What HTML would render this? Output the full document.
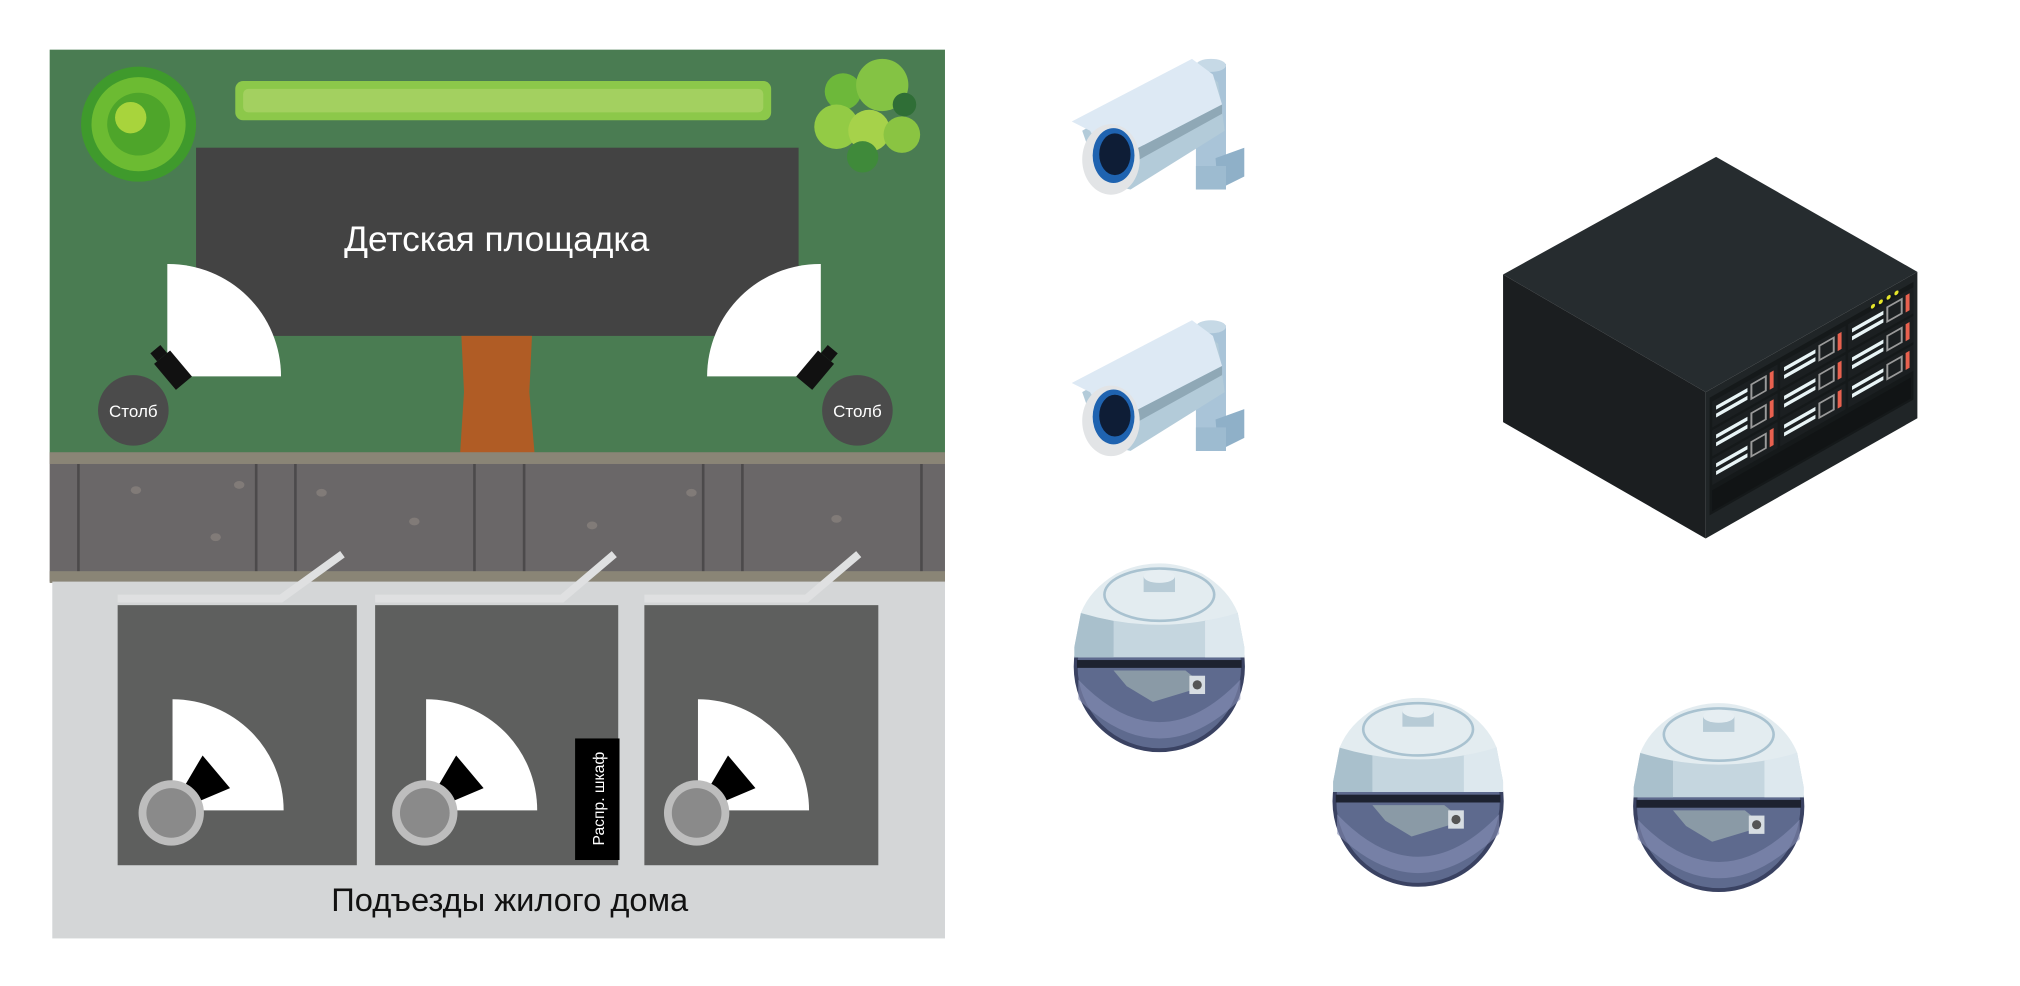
<!DOCTYPE html>
<html><head><meta charset="utf-8"><style>
html,body{margin:0;padding:0;background:#fff;}
svg{display:block;}
text{font-family:"Liberation Sans","DejaVu Sans",sans-serif;}
</style></head><body>
<svg width="2020" height="986" viewBox="0 0 1545.5 754.4" xmlns="http://www.w3.org/2000/svg">
<defs>
<g id="cam">
  <rect x="95" y="4" width="23" height="96" fill="#a9c4d8"/>
  <ellipse cx="106.5" cy="5" rx="11.5" ry="5" fill="#c6d9e6"/>
  <polygon points="110,76 132,68 132,90 112,100" fill="#8fb0c8"/>
  <rect x="95" y="82" width="23" height="18" fill="#9dbbd0"/>
  <polygon points="8,55 95,5 112,18 117,55 45,100 22,95" fill="#b3cbd9"/>
  <polygon points="0,48 92,0 108,12 115,35 28,80 14,55" fill="#dde9f4"/>
  <polygon points="28,80 115,35 115,42 32,88" fill="#8fa8b6"/>
  <ellipse cx="30" cy="77" rx="22" ry="27" fill="#e2e4e6"/>
  <ellipse cx="32" cy="74" rx="16" ry="21" fill="#1f63b0"/>
  <ellipse cx="33" cy="73" rx="12" ry="16" fill="#0e1d36"/>
</g>
<g id="dome">
  <ellipse cx="65" cy="85" rx="64" ry="64" fill="#5e6a8e" stroke="#3a4262" stroke-width="3"/>
  <path d="M3,95 Q65,160 127,95 L127,110 Q65,170 3,110Z" fill="#8790b5" opacity="0.6"/>
  <polygon points="30,88 85,88 100,100 60,112 40,100" fill="#8a9aa6"/>
  <rect x="88" y="92" width="12" height="14" fill="#d7dde2"/>
  <circle cx="94" cy="99" r="3.5" fill="#555"/>
  <rect x="2" y="80" width="126" height="6" fill="#1d2230"/>
  <path d="M0,78 L0,70 L5,44 Q12,28 32,16 Q65,0 98,16 Q118,28 125,44 L130,70 L130,78Z" fill="#c5d6df"/>
  <path d="M0,78 L0,70 L5,44 L30,50 L30,78Z" fill="#a9c0cc"/>
  <path d="M100,50 L125,44 L130,70 L130,78 L100,78Z" fill="#dde8ee"/>
  <path d="M5,44 Q12,26 32,14 Q65,-2 98,14 Q118,26 125,44 Q65,62 5,44Z" fill="#e3ecf0"/>
  <ellipse cx="65" cy="30" rx="42" ry="20" fill="none" stroke="#a9c2d0" stroke-width="2"/>
  <rect x="53" y="16" width="24" height="12" fill="#b7cbd6"/>
  <ellipse cx="65" cy="16" rx="12" ry="5" fill="#e6eef2"/>
</g>
<g id="bay">
  <rect x="0" y="0" width="50" height="20" fill="#1b1f21"/>
  <rect x="3" y="5" width="24" height="3" fill="#e8f4f6"/>
  <rect x="3" y="11" width="24" height="3" fill="#e8f4f6"/>
  <rect x="30" y="4" width="11" height="11" fill="none" stroke="#9a9a9a" stroke-width="1.5"/>
  <rect x="44" y="3" width="3" height="13" fill="#e8614f"/>
</g>
</defs>

<rect x="38" y="38" width="685" height="309" fill="#4a7c52"/>
<circle cx="106" cy="95" r="44" fill="#3f9a2c"/>
<circle cx="106" cy="95" r="36" fill="#6cbb32"/>
<circle cx="106" cy="95" r="24" fill="#4ea52a"/>
<circle cx="100" cy="90" r="12" fill="#a8d43c"/>
<rect x="180" y="62" width="410" height="30" rx="6" fill="#8cc84a"/>
<rect x="186" y="68" width="398" height="18" rx="4" fill="#a3d060"/>
<circle cx="645" cy="70" r="14" fill="#6db83a"/>
<circle cx="675" cy="65" r="20" fill="#84c344"/>
<circle cx="640" cy="97" r="17" fill="#93cb45"/>
<circle cx="665" cy="100" r="16" fill="#a6d24a"/>
<circle cx="690" cy="103" r="14" fill="#8ac442"/>
<circle cx="660" cy="120" r="12" fill="#3f8a3a"/>
<circle cx="692" cy="80" r="9" fill="#2f6e36"/>
<rect x="150" y="113" width="461" height="144" fill="#434343"/>
<text x="380" y="192" font-size="27" fill="#fff" text-anchor="middle">Детская площадка</text>
<path d="M353,257 L407,257 L405,300 L409,347 L352,347 L355,300Z" fill="#b05c25"/>

<path d="M128,288 L128,202 A86,86 0 0 1 215,288Z" fill="#fff"/>
<g transform="translate(133,284) rotate(-40)"><rect x="-8" y="-14" width="16" height="26" fill="#111"/><rect x="-5" y="-22" width="10" height="8" fill="#111"/></g>
<circle cx="102" cy="314" r="27" fill="#4b4b4b"/>
<text x="102" y="319" font-size="13" fill="#fff" text-anchor="middle">Столб</text>

<path d="M628,288 L628,202 A86,86 0 0 0 541,288Z" fill="#fff"/>
<g transform="translate(623,284) rotate(40)"><rect x="-8" y="-14" width="16" height="26" fill="#111"/><rect x="-5" y="-22" width="10" height="8" fill="#111"/></g>
<circle cx="656" cy="314" r="27" fill="#4b4b4b"/>
<text x="656" y="319" font-size="13" fill="#fff" text-anchor="middle">Столб</text>

<rect x="38" y="347" width="685" height="98" fill="#6a6768"/>
<rect x="38" y="346" width="685" height="9" fill="#8a8576"/>
<rect x="38" y="437" width="685" height="9" fill="#8a8576"/>
<g stroke="#4c4a4b" stroke-width="2">
<line x1="60" y1="355" x2="60" y2="437"/><line x1="196" y1="355" x2="196" y2="437"/><line x1="226" y1="355" x2="226" y2="437"/><line x1="363" y1="355" x2="363" y2="437"/><line x1="401" y1="355" x2="401" y2="437"/><line x1="538" y1="355" x2="538" y2="437"/><line x1="568" y1="355" x2="568" y2="437"/><line x1="705" y1="355" x2="705" y2="437"/>
</g>
<g fill="#817b78"><ellipse cx="104" cy="375" rx="4" ry="3"/><ellipse cx="183" cy="371" rx="4" ry="3"/><ellipse cx="246" cy="377" rx="4" ry="3"/><ellipse cx="317" cy="399" rx="4" ry="3"/><ellipse cx="453" cy="402" rx="4" ry="3"/><ellipse cx="529" cy="377" rx="4" ry="3"/><ellipse cx="640" cy="397" rx="4" ry="3"/><ellipse cx="165" cy="411" rx="4" ry="3"/></g>

<rect x="40" y="445" width="683" height="273" fill="#d4d6d7"/>
<rect x="90" y="463" width="183" height="199" fill="#5e5f5e"/>
<rect x="287" y="463" width="186" height="199" fill="#5e5f5e"/>
<rect x="493" y="463" width="179" height="199" fill="#5e5f5e"/>
<g stroke="#dfe0e1" stroke-width="6" fill="none">
<polyline points="90,458 215,458 262,424"/>
<polyline points="287,458 430,458 470,424"/>
<polyline points="493,458 617,458 657,424"/>
</g>
<g id="ent1">
<path d="M132,620 L132,535 A85,85 0 0 1 217,620Z" fill="#fff"/>
<polygon points="155,578 142,600 150,614 176,603" fill="#000"/>
<circle cx="131" cy="622" r="25" fill="#bdbdbd"/>
<circle cx="131" cy="622" r="19" fill="#8a8a8a"/>
</g>
<use href="#ent1" transform="translate(194,0)"/>
<use href="#ent1" transform="translate(402,0)"/>
<rect x="440" y="565" width="34" height="93" fill="#000"/>
<text transform="translate(462,611) rotate(-90)" font-size="12" fill="#fff" text-anchor="middle">Распр. шкаф</text>
<text x="390" y="697" font-size="25" fill="#111" text-anchor="middle">Подъезды жилого дома</text>

<use href="#cam" transform="translate(820,45)"/>
<use href="#cam" transform="translate(820,245)"/>
<use href="#dome" transform="translate(822,425)"/>
<use href="#dome" transform="translate(1020,528)"/>
<use href="#dome" transform="translate(1250,532)"/>

<polygon points="1150,210 1313,120 1467,208 1305,300" fill="#262c2f"/>
<polygon points="1150,210 1305,300 1305,412 1150,323" fill="#1b1e20"/>
<polygon points="1305,300 1467,208 1467,320 1305,412" fill="#202527"/>
<g transform="translate(1305,300) matrix(1,-0.568,0,1,0,0)">
  <rect x="3" y="6" width="156" height="90" fill="#15191a"/>
  <use href="#bay" x="5" y="10"/><use href="#bay" x="5" y="32"/><use href="#bay" x="5" y="54"/>
  <use href="#bay" x="57" y="10"/><use href="#bay" x="57" y="32"/><use href="#bay" x="57" y="54"/>
  <use href="#bay" x="109" y="10"/><use href="#bay" x="109" y="32"/><use href="#bay" x="109" y="54"/>
  <rect x="5" y="78" width="152" height="16" fill="#111415"/>
  <circle cx="128" cy="7" r="1.6" fill="#e6e62a"/><circle cx="134" cy="7" r="1.6" fill="#e6e62a"/><circle cx="140" cy="7" r="1.6" fill="#e6e62a"/><circle cx="146" cy="7" r="1.6" fill="#e6e62a"/>
</g>
</svg>
</body></html>
